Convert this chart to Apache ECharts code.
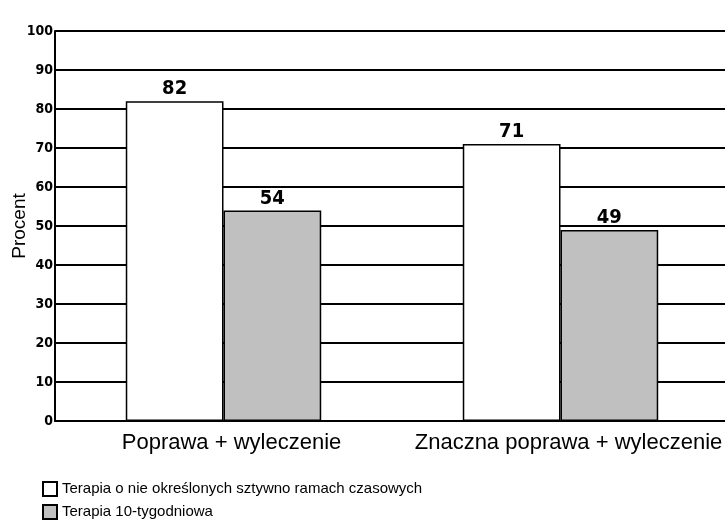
<!DOCTYPE html>
<html><head><meta charset="utf-8">
<script src="https://cdn.jsdelivr.net/npm/echarts@6/dist/echarts.min.js"></script>
<style>html,body{margin:0;padding:0;background:#fff}#c{width:725px;height:521px}</style>
</head><body><div id="c"></div>
<script>
const categories = ['Poprawa + wyleczenie', 'Znaczna poprawa + wyleczenie'];
const seriesNames = ['Terapia o nie określonych sztywno ramach czasowych', 'Terapia 10-tygodniowa'];
const valuesOpen = [82, 71];
const valuesTen = [54, 49];
const yTicks = [0, 10, 20, 30, 40, 50, 60, 70, 80, 90, 100];

const chart = echarts.init(document.getElementById('c'));
const labelStyle = {show: true, position: 'top', distance: 2, color: '#000', fontFamily: 'DejaVu Sans Condensed', fontWeight: 'bold', fontSize: 20};
chart.setOption({
  animation: false,
  backgroundColor: '#fff',
  grid: {left: 55, right: -4, top: 31, bottom: 100, containLabel: false, outerBoundsMode: 'none'},
  legend: {
    orient: 'vertical', left: 42, top: 481, height: 60, padding: 0, itemWidth: 14, itemHeight: 14, itemGap: 7,
    icon: 'rect',
    textStyle: {fontFamily: 'Liberation Sans', fontSize: 15, color: '#000'},
    data: seriesNames
  },
  xAxis: {
    type: 'category', data: categories,
    axisLine: {show: true, lineStyle: {color: '#000', width: 2}},
    axisTick: {show: false},
    axisLabel: {color: '#000', fontFamily: 'Liberation Sans', fontSize: 22, margin: 11, interval: 0, padding: [0, 0, 0, 16]}
  },
  yAxis: {
    type: 'value', min: yTicks[0], max: yTicks[yTicks.length - 1], interval: 10,
    name: 'Procent', nameLocation: 'middle', nameGap: 26, nameRotate: 90, nameMoveOverlap: false,
    nameTextStyle: {color: '#000', fontFamily: 'Liberation Sans', fontSize: 19},
    axisLine: {show: true, lineStyle: {color: '#000', width: 2}},
    axisTick: {show: false},
    splitLine: {show: true, lineStyle: {color: '#000', width: 2}},
    axisLabel: {color: '#000', fontFamily: 'DejaVu Sans Condensed', fontWeight: 'bold', fontSize: 14, margin: 2}
  },
  series: [
    {name: seriesNames[0], type: 'bar', data: valuesOpen, barGap: '0%', barCategoryGap: '42%',
     itemStyle: {color: '#ffffff', borderColor: '#000', borderWidth: 1.5}, label: labelStyle},
    {name: seriesNames[1], type: 'bar', data: valuesTen,
     itemStyle: {color: '#c0c0c0', borderColor: '#000', borderWidth: 1.5}, label: labelStyle}
  ]
});
</script></body></html>
